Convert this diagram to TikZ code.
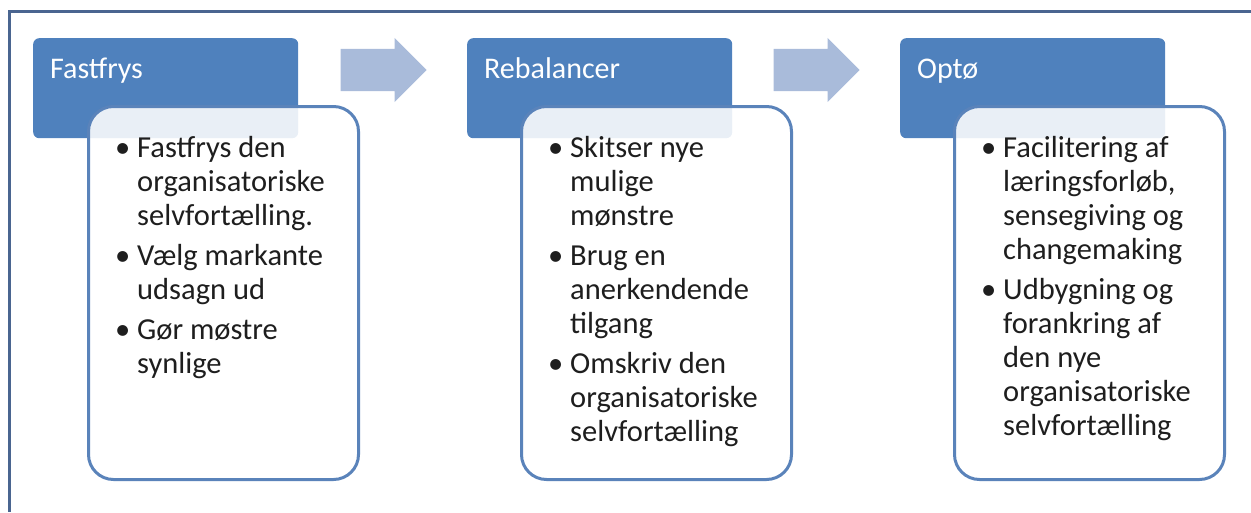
\documentclass[tikz,border=0pt]{standalone}
\usepackage{fontspec}
\setmainfont{Carlito}
\usetikzlibrary{shapes.arrows}
\definecolor{hdrblue}{HTML}{4F81BD}
\definecolor{bodyline}{HTML}{5A83BA}
\definecolor{arrowfill}{HTML}{A9BBDA}
\definecolor{framecol}{HTML}{4A6590}
\definecolor{txt}{HTML}{1E1E1E}
\newcommand{\bul}{\makebox[22pt][l]{\textbullet}}
\tikzset{
  hdr/.style={draw=none, fill=hdrblue, rounded corners=6pt, minimum width=265pt, minimum height=100pt, anchor=north west, inner sep=0pt},
  hdrtext/.style={anchor=base west, text=white, inner sep=0pt, font=\fontsize{30}{34}\selectfont},
  bodybox/.style={draw=bodyline, line width=3pt, fill=white, fill opacity=0.88, draw opacity=1, rounded corners=25pt, minimum width=270pt, minimum height=373pt, anchor=north west, inner sep=0pt},
  bodytext/.style={anchor=base west, text=txt, inner sep=0pt, font=\fontsize{30.5}{34}\selectfont, text opacity=1},
  flowarrow/.style={single arrow, fill=arrowfill, draw=none, text height=0pt, text depth=0pt, text width=0pt, inner xsep=0pt, inner ysep=21pt, minimum height=86pt, single arrow head extend=11pt, anchor=tip}
}
\begin{document}
\begin{tikzpicture}[x=1pt,y=-1pt]
\useasboundingbox (0,0) rectangle (1251,512);
% outer frame (top and left edges)
\coordinate (fr1) at (1251,11);
\coordinate (fr2) at (9.5,11);
\coordinate (fr3) at (9.5,512);
\draw[framecol, line width=3pt] (fr1) -- (fr2) -- (fr3);

% headers
\node[hdr] (h1) at (33,38) {};
\node[hdr] (h2) at (467,38) {};
\node[hdr] (h3) at (900,38) {};
\node[hdrtext] (h1t) at (50,78) {Fastfrys};
\node[hdrtext] (h2t) at (484,78) {Rebalancer};
\node[hdrtext] (h3t) at (917,78) {Optø};

% arrows
\node[flowarrow] (a1) at (427,70) {};
\node[flowarrow] (a2) at (860,70) {};

% bodies
\node[bodybox] (b1) at (87,105) {};
\node[bodybox] (b2) at (520,105) {};
\node[bodybox] (b3) at (953,105) {};

\node[bodytext] (t1) at (115,157) {\begin{tabular}[t]{@{}l@{}l@{}}
\bul & Fastfrys den\\
 & organisatoriske\\
 & selvfortælling.\\[6pt]
\bul & Vælg markante\\
 & udsagn ud\\[6pt]
\bul & Gør møstre\\
 & synlige
\end{tabular}};

\node[bodytext] (t2) at (548,157) {\begin{tabular}[t]{@{}l@{}l@{}}
\bul & Skitser nye\\
 & mulige\\
 & mønstre\\[6pt]
\bul & Brug en\\
 & anerkendende\\
 & tilgang\\[6pt]
\bul & Omskriv den\\
 & organisatoriske\\
 & selvfortælling
\end{tabular}};

\node[bodytext] (t3) at (981,157) {\begin{tabular}[t]{@{}l@{}l@{}}
\bul & Facilitering af\\
 & læringsforløb,\\
 & sensegiving og\\
 & changemaking\\[6pt]
\bul & Udbygning og\\
 & forankring af\\
 & den nye\\
 & organisatoriske\\
 & selvfortælling
\end{tabular}};
\end{tikzpicture}
\end{document}
